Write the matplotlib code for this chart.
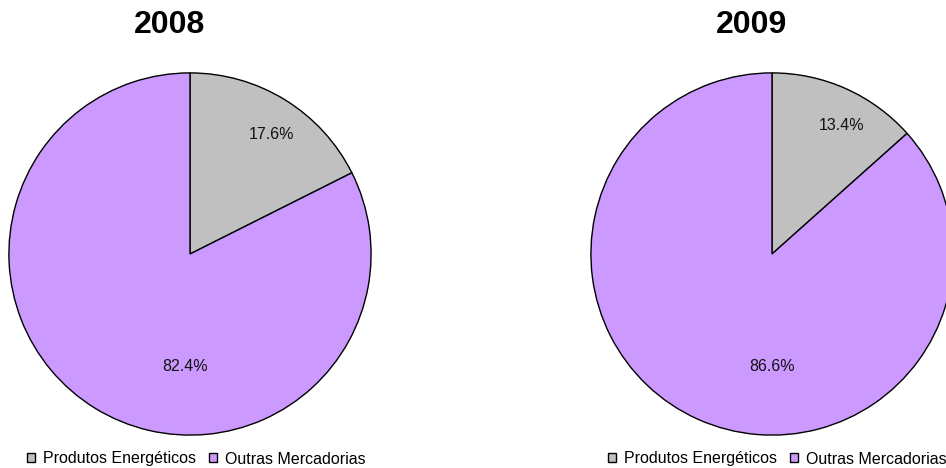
import numpy as np
import matplotlib.pyplot as plt

plt.rcParams['font.family'] = ['Liberation Sans', 'DejaVu Sans']

categories = ["Produtos Energéticos", "Outras Mercadorias"]
years = ["2008", "2009"]
shares_2008 = [17.6, 82.4]
shares_2009 = [13.4, 86.6]
colors = ["#C0C0C0", "#CC99FF"]

W, H = 946, 468
fig = plt.figure(figsize=(W / 100, H / 100), dpi=100)

# pie centres / radius in pixels
centres = [(190, 254), (772, 254)]
radius = 182
# where the titles and legends sit (pixels)
title_x = [170, 751]
legend_x = [196, 777]
# label offsets (fraction of radius) as in the original Excel layout
label_pos = [[(0.45, 0.66), (-0.03, -0.62)],
             [(0.385, 0.71), (0.0, -0.62)]]

for i, (year, vals) in enumerate(zip(years, [shares_2008, shares_2009])):
    cx, cy = centres[i]
    ax = fig.add_axes([(cx - radius) / W, (H - cy - radius) / H,
                       2 * radius / W, 2 * radius / H])
    wedges, _ = ax.pie(vals, colors=colors, startangle=90, counterclock=False,
                       radius=1.0,
                       wedgeprops=dict(edgecolor='black', linewidth=1.0))
    ax.set_xlim(-1.005, 1.005)
    ax.set_ylim(-1.005, 1.005)
    ax.set_aspect('equal')
    ax.axis('off')
    for v, (lx, ly) in zip(vals, label_pos[i]):
        ax.text(lx, ly, "{:.1f}%".format(v), ha='center', va='center',
                fontsize=11.5, color='#111111')
    fig.text(title_x[i] / W, 1 - 25 / H, year, ha='center', va='center',
             fontsize=23, fontweight='bold')
    fig.legend(wedges, categories, loc='center',
               bbox_to_anchor=(legend_x[i] / W, 1 - 459 / H), ncol=2,
               frameon=False, fontsize=11.5, handlelength=0.5,
               handleheight=0.5, handletextpad=0.5, columnspacing=0.8,
               borderpad=0)

fig.savefig("out.png", dpi=100)
